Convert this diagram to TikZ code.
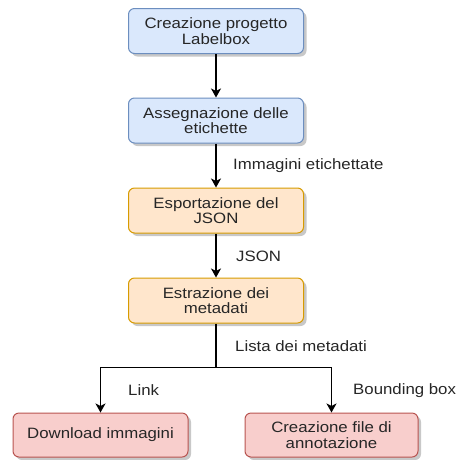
\documentclass[tikz,border=0pt]{standalone}
\usepackage{fontspec}
\setmainfont[FakeStretch=1.12]{Liberation Sans}
\usetikzlibrary{arrows.meta,shadows}
\definecolor{bluefill}{HTML}{DAE8FC}
\definecolor{bluedraw}{HTML}{6C8EBF}
\definecolor{orangefill}{HTML}{FFE6CC}
\definecolor{orangedraw}{HTML}{D79B00}
\definecolor{redfill}{HTML}{F8CECC}
\definecolor{reddraw}{HTML}{B85450}
\definecolor{shadowgray}{HTML}{C8C8C8}
\definecolor{inkgray}{HTML}{262626}
\tikzset{
  boxbase/.style={rounded corners=6pt, line width=1pt, align=center,
    minimum width=175pt, minimum height=45pt, inner sep=0pt, text=inkgray,
    font=\fontsize{15}{15.5}\selectfont,
    drop shadow={shadow xshift=3pt, shadow yshift=-3pt, fill=shadowgray, opacity=1}},
  bluebox/.style={boxbase, fill=bluefill, draw=bluedraw},
  orangebox/.style={boxbase, fill=orangefill, draw=orangedraw},
  redbox/.style={boxbase, fill=redfill, draw=reddraw},
  flow/.style={line width=1.2pt, -{Stealth[length=9pt,width=10pt,inset=2.5pt]}},
  flowshadow/.style={line width=1.2pt, draw=shadowgray},
  elabel/.style={anchor=west, font=\fontsize{15}{15.5}\selectfont, inner sep=0pt, text=inkgray}
}
\begin{document}
\begin{tikzpicture}[x=1pt,y=-1pt]
\useasboundingbox (0,0) rectangle (460,459);

\node[bluebox] (crea) at (216,31) {Creazione progetto\\Labelbox};
\node[bluebox] (assegna) at (216,120.5) {Assegnazione delle\\etichette};
\node[orangebox] (esporta) at (216,210.5) {Esportazione del\\JSON};
\node[orangebox] (estrai) at (216,300.5) {Estrazione dei\\metadati};
\node[redbox, minimum height=44pt] (download) at (100.5,435) {Download immagini};
\node[redbox, minimum height=44pt, minimum width=173pt] (annota) at (331.5,435) {Creazione file di\\annotazione};

\coordinate (split) at (216,367.5);

% soft shadows under the connectors, stopping short of the arrow tips
\begin{scope}[shift={(2.5,2.5)}]
  \draw[flowshadow] (crea.south) -- ([yshift=9pt]assegna.north);
  \draw[flowshadow] (assegna.south) -- ([yshift=9pt]esporta.north);
  \draw[flowshadow] (esporta.south) -- ([yshift=9pt]estrai.north);
  \draw[flowshadow] (estrai.south) -- (split) -| ([yshift=9pt]download.north);
  \draw[flowshadow] (split) -| ([yshift=9pt]annota.north);
\end{scope}

% connectors
\draw[flow] (crea) -- (assegna);
\draw[flow] (assegna) -- (esporta);
\draw[flow] (esporta) -- (estrai);
\draw[flow] (estrai.south) -- (split) -| (download.north);
\draw[flow] (split) -| (annota.north);

% connector labels
\node[elabel] (limm) at (233,166) {Immagini etichettate};
\node[elabel] (ljson) at (236,256) {JSON};
\node[elabel] (llista) at (235,346) {Lista dei metadati};
\node[elabel] (llink) at (128,390.5) {Link};
\node[elabel] (lbox) at (353,390.5) {Bounding box};
\end{tikzpicture}
\end{document}
